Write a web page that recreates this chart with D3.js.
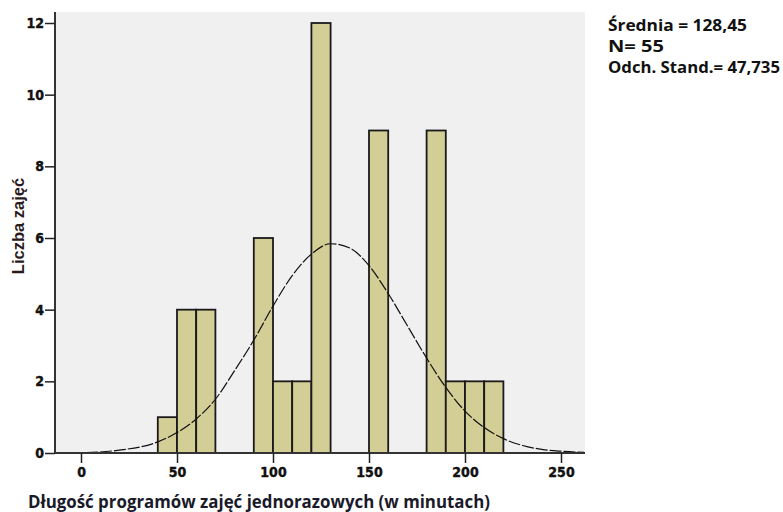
<!DOCTYPE html>
<html>
<head>
<meta charset="utf-8">
<script src="https://cdn.jsdelivr.net/npm/d3@7"></script>
<style>
  body { margin: 0; background: #fff; }
  svg { display: block; }
</style>
</head>
<body>
<svg id="chart"></svg>
<script>
// Histogram data (bin start, 10 minutes wide) and counts
const binStarts = [40, 50, 60, 90, 100, 110, 120, 150, 180, 190, 200, 210];
const counts = [1, 4, 4, 6, 2, 2, 12, 9, 9, 2, 2, 2];
const binWidth = 10;

// Normal curve
const curveX = [-12, 0, 20, 40, 50, 60, 70, 80, 90, 100, 110, 120, 130, 140, 150, 160, 170, 180, 190, 200, 210, 220, 230, 240, 250, 262];
const curveY = [0.01, 0.01, 0.08, 0.31, 0.57, 0.95, 1.5, 2.3, 3.15, 4.1, 4.95, 5.55, 5.84, 5.72, 5.23, 4.45, 3.55, 2.65, 1.83, 1.17, 0.71, 0.4, 0.21, 0.1, 0.05, 0.02];

const xTicks = [0, 50, 100, 150, 200, 250];
const yTicks = [0, 2, 4, 6, 8, 10, 12];

const statLines = ["Średnia = 128,45", "N= 55", "Odch. Stand.= 47,735"];
const statWidths = [139, 56, 172];

const width = 783;
const height = 512;
const plotLeft = 55, plotRight = 585, plotTop = 12, plotBottom = 453;

const svg = d3.select("#chart").attr("width", width).attr("height", height);

const x = d3.scaleLinear().domain([0, 250]).range([81, 561]);
const y = d3.scaleLinear().domain([0, 12]).range([plotBottom, 23]);

const tickFont = "'Liberation Sans Narrow', 'Arial Narrow', 'DejaVu Sans Condensed', sans-serif";
const textFont = "'Open Sans', Lato, sans-serif";

// plot background
svg.append("rect")
  .attr("x", plotLeft).attr("y", plotTop)
  .attr("width", plotRight - plotLeft).attr("height", plotBottom - plotTop)
  .attr("fill", "#f0f0f0");

// bars
svg.selectAll("rect.bar")
  .data(binStarts)
  .enter()
  .append("rect")
  .attr("class", "bar")
  .attr("x", (d) => x(d))
  .attr("y", (d, i) => y(counts[i]))
  .attr("width", (d) => x(d + binWidth) - x(d))
  .attr("height", (d, i) => y(0) - y(counts[i]))
  .attr("fill", "#d3cd96")
  .attr("stroke", "#1a1a1a")
  .attr("stroke-width", 1.8);

// normal curve
const line = d3.line()
  .x((d) => x(d))
  .y((d, i) => y(curveY[i]))
  .curve(d3.curveMonotoneX);

svg.append("path")
  .attr("d", line(curveX))
  .attr("fill", "none")
  .attr("stroke", "#111")
  .attr("stroke-width", 1.2)
  .attr("stroke-dasharray", "12,2");

// axes
const xAxis = d3.axisBottom(x).tickValues(xTicks).tickSize(10).tickSizeOuter(0);
const yAxis = d3.axisLeft(y).tickValues(yTicks).tickSize(10).tickSizeOuter(0);

const gx = svg.append("g").attr("transform", "translate(0," + plotBottom + ")").call(xAxis);
gx.select(".domain").attr("d", "M" + plotLeft + ",0H" + plotRight);
const gy = svg.append("g").attr("transform", "translate(" + plotLeft + ",0)").call(yAxis);
gy.select(".domain").attr("d", "M0," + plotTop + "V" + plotBottom);

[gx, gy].forEach((g) => {
  g.select(".domain").attr("stroke", "#333").attr("stroke-width", 2);
  g.selectAll(".tick line").attr("stroke", "#222").attr("stroke-width", 1.5);
  g.selectAll(".tick text")
    .attr("font-family", tickFont)
    .attr("font-weight", "bold")
    .attr("font-size", 14)
    .attr("fill", "#111")
    .attr("stroke", "#111")
    .attr("stroke-width", 0.4);
});
gx.selectAll(".tick text").attr("dy", "0.95em").attr("y", 11);
gy.selectAll(".tick text").attr("x", -11);

// axis titles
svg.append("text")
  .attr("x", 28)
  .attr("y", 508)
  .attr("font-family", textFont)
  .attr("font-weight", "bold")
  .attr("font-size", 17)
  .attr("textLength", 462)
  .attr("lengthAdjust", "spacingAndGlyphs")
  .attr("fill", "#1a1a2a")
  .text("Długość programów zajęć jednorazowych (w minutach)");

svg.append("text")
  .attr("transform", "translate(24,226) rotate(-90)")
  .attr("text-anchor", "middle")
  .attr("font-family", "'Liberation Sans', Arial, sans-serif")
  .attr("font-weight", "bold")
  .attr("font-size", 16.5)
  .attr("fill", "#2a1a20")
  .text("Liczba zajęć");

// statistics box
svg.selectAll("text.stat")
  .data(statLines)
  .enter()
  .append("text")
  .attr("class", "stat")
  .attr("x", 608)
  .attr("y", (d, i) => 31 + i * 21)
  .attr("font-family", textFont)
  .attr("font-weight", "bold")
  .attr("font-size", 16)
  .attr("textLength", (d, i) => statWidths[i])
  .attr("lengthAdjust", "spacingAndGlyphs")
  .attr("fill", "#111")
  .text((d) => d);
</script>
</body>
</html>
